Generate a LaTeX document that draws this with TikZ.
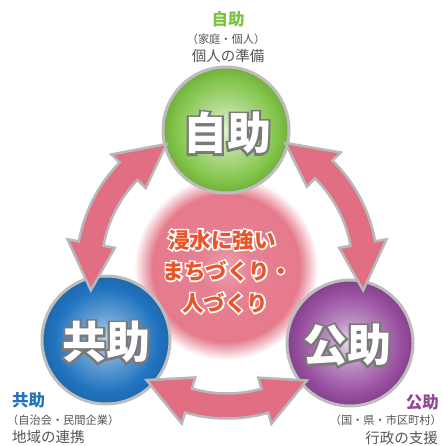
\documentclass[tikz,border=0pt]{standalone}
\usepackage{fontspec}
\setmainfont{Noto Sans CJK JP}
\newfontfamily\outlinefont{Noto Sans CJK JP}[FakeBold=10]
\newfontfamily\outlinefontB{Noto Sans CJK JP}[FakeBold=14]
\usetikzlibrary{calc}
\definecolor{jgreen}{HTML}{7DC242}
\definecolor{jblue}{HTML}{2174C0}
\definecolor{jpurple}{HTML}{93479B}
\definecolor{jgray}{HTML}{555555}
\definecolor{ringgray}{HTML}{BDBDBD}
\definecolor{arrowpink}{HTML}{E26E84}
\definecolor{arrowedge}{HTML}{B8B8B8}
\definecolor{glowpink}{HTML}{E57A8C}
\definecolor{centertext}{HTML}{E8552A}
\definecolor{outgray}{HTML}{7A7A7A}
\pgfdeclareradialshading{glowshade}{\pgfpoint{0bp}{0bp}}{color(0bp)=(glowpink!70!white); color(7bp)=(glowpink!95!white); color(20bp)=(glowpink); color(25bp)=(white); color(50bp)=(white)}
\pgfdeclareradialshading{greenball}{\pgfpoint{0bp}{0bp}}{color(0bp)=(jgreen!25!white); color(10bp)=(jgreen!60!white); color(20bp)=(jgreen!95!white); color(25bp)=(jgreen!90!black); color(50bp)=(jgreen)}
\pgfdeclareradialshading{blueball}{\pgfpoint{0bp}{0bp}}{color(0bp)=(jblue!30!white); color(10bp)=(jblue!70!white); color(20bp)=(jblue); color(25bp)=(jblue!90!black); color(50bp)=(jblue)}
\pgfdeclareradialshading{purpleball}{\pgfpoint{0bp}{0bp}}{color(0bp)=(jpurple!20!white); color(10bp)=(jpurple!65!white); color(20bp)=(jpurple!95!white); color(25bp)=(jpurple!90!black); color(50bp)=(jpurple)}
\tikzset{
  ball/.style={draw=ringgray, line width=3pt},
  bigarrow/.style={fill=arrowpink, draw=arrowedge, line width=2.5pt, line join=miter},
  balltext/.style={inner sep=0pt, font=\fontsize{44}{44}\selectfont\bfseries, text=white},
  ballshadow/.style={inner sep=0pt, font=\outlinefont\fontsize{44}{44}\selectfont\bfseries, text=outgray},
  centerline/.style={inner sep=0pt, text=centertext, font=\fontsize{21.5}{21.5}\selectfont\bfseries},
  centershadow/.style={inner sep=0pt, text=white, font=\outlinefontB\fontsize{21.5}{21.5}\selectfont\bfseries},
  headlabel/.style={inner sep=0pt, font=\fontsize{16.5}{16.5}\selectfont\bfseries},
  sublabel/.style={inner sep=0pt, text=jgray, font=\fontsize{11.2}{11.2}\selectfont},
  mainlabel/.style={inner sep=0pt, text=jgray, font=\fontsize{14.5}{14.5}\selectfont},
}
\newcommand{\arcarrow}[2]{%
  \pgfmathsetmacro{\aA}{#1}\pgfmathsetmacro{\bB}{#2}%
  \pgfmathsetmacro{\aH}{#1+19.5}\pgfmathsetmacro{\bH}{#2-19.5}%
  \filldraw[bigarrow] (\aA:138) -- (\aH:162) -- (\aH:150.5)
    -- plot[domain=\aH:\bH, samples=40] (\x:150.5)
    -- (\bH:162) -- (\bB:138) -- (\bH:114) -- (\bH:125.5)
    -- plot[domain=\bH:\aH, samples=40] (\x:125.5)
    -- (\aH:114) -- cycle;}
\begin{document}
\begin{tikzpicture}[x=1pt,y=-1pt]
\useasboundingbox (0,0) rectangle (442,446);
\fill[white] (0,0) rectangle (442,446);
% central glow
\shade[shading=glowshade] (226,268) circle (92);
% balls
\shade[shading=greenball] (226,130) circle (63);
\draw[ball] (226,130) circle (63);
\shade[shading=blueball] (106,340) circle (64);
\draw[ball] (106,340) circle (64);
\shade[shading=purpleball] (350,343) circle (63);
\draw[ball] (350,343) circle (63);
% arrows
\begin{scope}[shift={(227,268)}]
  \arcarrow{170.7}{244}
  \arcarrow{-65}{9.3}
  \arcarrow{54.6}{125.7}
\end{scope}
% ball texts (gray outline under white)
\node[ballshadow] (sjijo) at (227,133) {自助};
\node[balltext] (tjijo) at (227,133) {自助};
\node[ballshadow] (skyojo) at (106,342) {共助};
\node[balltext] (tkyojo) at (106,342) {共助};
\node[ballshadow] (skojo) at (347,345) {公助};
\node[balltext] (tkojo) at (347,345) {公助};
% center text (white outline under orange)
\node[centershadow] (sc1) at (222,240) {浸水に強い};
\node[centerline] (c1) at (222,240) {浸水に強い};
\node[centershadow] (sc2) at (227,271) {まちづくり・};
\node[centerline] (c2) at (227,271) {まちづくり・};
\node[centershadow] (sc3) at (225,303) {人づくり};
\node[centerline] (c3) at (225,303) {人づくり};
% top labels
\node[headlabel, text=jgreen] (l1a) at (228,19) {自助};
\node[sublabel] (l1b) at (226,39) {（家庭・個人）};
\node[mainlabel] (l1c) at (228,56) {個人の準備};
% bottom-left labels
\node[headlabel, text=jblue, anchor=west] (l2a) at (12,400) {共助};
\node[sublabel, anchor=west] (l2b) at (7,420) {（自治会・民間企業）};
\node[mainlabel, anchor=west] (l2c) at (12,437) {地域の連携};
% bottom-right labels
\node[headlabel, text=jpurple, anchor=east] (l3a) at (439,402) {公助};
\node[sublabel, anchor=east] (l3b) at (442,420) {（国・県・市区町村）};
\node[mainlabel, anchor=east] (l3c) at (438,438) {行政の支援};
\end{tikzpicture}
\end{document}
